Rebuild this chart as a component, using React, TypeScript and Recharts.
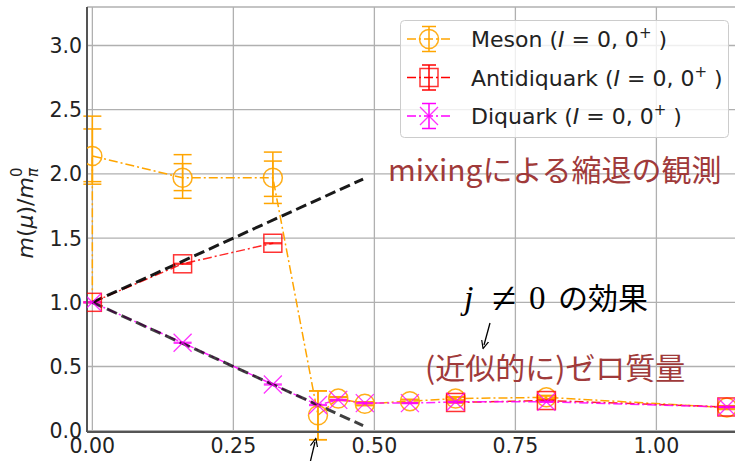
import React from 'react';
import { LineChart, Line, XAxis, YAxis, CartesianGrid, ErrorBar, Legend } from 'recharts';

// Meson (I=0, 0+) masses vs chemical potential, with inner/outer error ranges [below, above]
const mesonMu = [0.0, 0.16, 0.32, 0.40, 0.436, 0.483, 0.563, 0.644, 0.805, 1.125];
const mesonMass = [2.14, 1.97, 1.97, 0.12, 0.25, 0.21, 0.23, 0.25, 0.26, 0.18];
const mesonErrInner = [[0.20, 0.21], [0.10, 0.11], [0.145, 0.13], [0.19, 0.19], [0.01, 0.01], [0.01, 0.01], [0.01, 0.01], [0.01, 0.01], [0.01, 0.01], [0.01, 0.01]];
const mesonErrOuter = [[0.22, 0.31], [0.16, 0.18], [0.20, 0.20], [0.19, 0.19], [0.015, 0.015], [0.015, 0.015], [0.015, 0.015], [0.015, 0.015], [0.015, 0.015], [0.015, 0.015]];

// vertical meson connector at mu = 0 (pion mass up to sigma mass)
const mesonZeroMu = [0.0, 0.0];
const mesonZeroMass = [1.0, 2.14];

// Antidiquark (I=0, 0+): low-mu branch and high-mu branch
const antiLowMu = [0.0, 0.16, 0.32];
const antiLowMass = [1.0, 1.30, 1.46];
const antiHighMu = [0.644, 0.805, 1.125];
const antiHighMass = [0.22, 0.235, 0.185];
const antiErr = 0.004;

// Diquark (I=0, 0+)
const diqMu = [0.0, 0.16, 0.32, 0.40, 0.436, 0.483, 0.563, 0.644, 0.805, 1.125];
const diqMass = [1.0, 0.685, 0.36, 0.20, 0.24, 0.215, 0.215, 0.225, 0.225, 0.185];
const diqErr = 0.004;

// m_pi +/- 2 mu guide lines
const guideMu = [0.0, 0.48];
const guideUpper = [1.0, 1.96];
const guideLower = [1.0, 0.04];

const xTicks = [0, 0.25, 0.5, 0.75, 1.0];
const yTicks = [0, 0.5, 1.0, 1.5, 2.0, 2.5, 3.0];

const ORANGE = '#ffa500';
const RED = '#ff0000';
const MAGENTA = '#ff00ff';
const ANNOT = '#a03a3a';
const SPINE = '#555555';
const DASHDOT = '9 3 2 3';

const mesonData = mesonMu.map((mu, i) => ({ mu, m: mesonMass[i], eIn: mesonErrInner[i], eOut: mesonErrOuter[i] }));
const mesonZeroData = mesonZeroMu.map((mu, i) => ({ mu, m: mesonZeroMass[i] }));
const antiLowData = antiLowMu.map((mu, i) => ({ mu, m: antiLowMass[i], e: antiErr }));
const antiHighData = antiHighMu.map((mu, i) => ({ mu, m: antiHighMass[i], e: antiErr }));
const diqData = diqMu.map((mu, i) => ({ mu, m: diqMass[i], e: diqErr }));
const upperData = guideMu.map((mu, i) => ({ mu, m: guideUpper[i] }));
const lowerData = guideMu.map((mu, i) => ({ mu, m: guideLower[i] }));

type Kind = 'circle' | 'square' | 'x';

function marker(kind: Kind, color: string, cx: number, cy: number, key: string) {
  if (kind === 'circle') {
    return <circle key={key} cx={cx} cy={cy} r={9.5} fill="none" stroke={color} strokeWidth={1.5} strokeOpacity={0.9} />;
  }
  if (kind === 'square') {
    return <rect key={key} x={cx - 9} y={cy - 9} width={18} height={18} fill="none" stroke={color} strokeWidth={1.5} strokeOpacity={0.8} />;
  }
  return (
    <path key={key} d={`M${cx - 9},${cy - 9}L${cx + 9},${cy + 9}M${cx - 9},${cy + 9}L${cx + 9},${cy - 9}`} stroke={color} strokeWidth={1.3} strokeOpacity={0.8} fill="none" />
  );
}

const dotFor = (kind: Kind, color: string, tag: string) => (props: any) => {
  const { cx, cy, index } = props;
  if (cx == null || cy == null) return <g key={`${tag}-${index}`} />;
  return marker(kind, color, cx, cy, `${tag}-${index}`);
};

const XTick = (props: any) => {
  const { x, y, payload } = props;
  return (
    <text x={x} y={y + 21} textAnchor="middle" fontFamily="DejaVu Sans" fontSize={20.5} fill="#222">
      {payload.value.toFixed(2)}
    </text>
  );
};

const YTick = (props: any) => {
  const { x, y, payload } = props;
  return (
    <text x={x} y={y + 7.5} textAnchor="end" fontFamily="DejaVu Sans" fontSize={20.5} fill="#222">
      {payload.value.toFixed(1)}
    </text>
  );
};

const legendRows: { name: string; color: string; kind: Kind }[] = [
  { name: 'Meson', color: ORANGE, kind: 'circle' },
  { name: 'Antidiquark', color: RED, kind: 'square' },
  { name: 'Diquark', color: MAGENTA, kind: 'x' },
];

const LegendBox = () => (
  <svg width={330} height={119} style={{ display: 'block' }}>
    <rect x={0.5} y={0.5} width={328} height={117} rx={4} fill="#ffffff" fillOpacity={0.8} stroke="#cccccc" strokeWidth={1} />
    {legendRows.map((r, i) => {
      const cy = 19 + i * 38.5;
      return (
        <g key={r.name}>
          <line x1={7} y1={cy} x2={51} y2={cy} stroke={r.color} strokeWidth={1.5} strokeDasharray={DASHDOT} />
          <line x1={29} y1={cy - 12.5} x2={29} y2={cy + 12.5} stroke={r.color} strokeWidth={1.5} />
          <line x1={22} y1={cy - 12.5} x2={36} y2={cy - 12.5} stroke={r.color} strokeWidth={1.5} />
          <line x1={22} y1={cy + 12.5} x2={36} y2={cy + 12.5} stroke={r.color} strokeWidth={1.5} />
          {marker(r.kind, r.color, 29, cy, `lm-${i}`)}
          <text x={71} y={cy + 8} fontFamily="DejaVu Sans" fontSize={22} fill="#222">
            {r.name} (<tspan fontStyle="italic">I</tspan>
            <tspan> = 0, 0</tspan>
            <tspan fontSize={15} dy={-9}>+</tspan>
            <tspan dy={9}> )</tspan>
          </text>
        </g>
      );
    })}
  </svg>
);

export default function App() {
  return (
    <div style={{ position: 'absolute', left: 0, top: 0, width: 735, height: 461, overflow: 'hidden', background: '#fff' }}>
      <LineChart width={745} height={461} margin={{ top: 7, right: 4, bottom: 0, left: 0 }}>
        <CartesianGrid stroke="#b0b0b0" strokeWidth={1.3} />
        <XAxis
          type="number"
          dataKey="mu"
          domain={[-0.0095, 1.15]}
          ticks={xTicks}
          allowDataOverflow
          height={29}
          tickSize={0}
          tickMargin={0}
          tickLine={false}
          axisLine={{ stroke: SPINE, strokeWidth: 2 }}
          tick={XTick}
          interval={0}
        />
        <XAxis xAxisId="top" orientation="top" type="number" domain={[-0.0095, 1.15]} height={0} tick={false} tickLine={false} axisLine={{ stroke: SPINE, strokeWidth: 2 }} />
        <YAxis
          type="number"
          dataKey="m"
          domain={[-0.01, 3.3]}
          ticks={yTicks}
          allowDataOverflow
          width={87}
          tickSize={0}
          tickMargin={5}
          tickLine={false}
          axisLine={{ stroke: SPINE, strokeWidth: 2 }}
          tick={YTick}
          interval={0}
        />
        <Legend
          layout="vertical"
          align="center"
          verticalAlign="middle"
          wrapperStyle={{ position: 'absolute', left: 400, top: 20, width: 330, height: 119 }}
          content={LegendBox}
        />
        <Line data={mesonZeroData} dataKey="m" stroke={ORANGE} strokeWidth={1.5} strokeDasharray={DASHDOT} dot={false} isAnimationActive={false} legendType="none" />
        <Line data={mesonData} dataKey="m" name="Meson" stroke={ORANGE} strokeWidth={1.5} strokeDasharray={DASHDOT} dot={dotFor('circle', ORANGE, 'ms')} isAnimationActive={false}>
          <ErrorBar dataKey="eOut" width={9} stroke={ORANGE} strokeWidth={1.5} direction="y" />
          <ErrorBar dataKey="eIn" width={9} stroke={ORANGE} strokeWidth={1.5} direction="y" />
        </Line>
        <Line data={antiLowData} dataKey="m" name="Antidiquark" stroke={RED} strokeOpacity={0.85} strokeWidth={1.5} strokeDasharray={DASHDOT} dot={dotFor('square', RED, 'al')} isAnimationActive={false}>
          <ErrorBar dataKey="e" width={9} stroke={RED} strokeOpacity={0.8} strokeWidth={1.3} direction="y" />
        </Line>
        <Line data={antiHighData} dataKey="m" stroke={RED} strokeOpacity={0.85} strokeWidth={1.5} strokeDasharray={DASHDOT} dot={dotFor('square', RED, 'ah')} isAnimationActive={false} legendType="none">
          <ErrorBar dataKey="e" width={9} stroke={RED} strokeOpacity={0.8} strokeWidth={1.3} direction="y" />
        </Line>
        <Line data={diqData} dataKey="m" name="Diquark" stroke={MAGENTA} strokeOpacity={0.85} strokeWidth={1.5} strokeDasharray={DASHDOT} dot={dotFor('x', MAGENTA, 'dq')} isAnimationActive={false}>
          <ErrorBar dataKey="e" width={9} stroke={MAGENTA} strokeOpacity={0.8} strokeWidth={1.3} direction="y" />
        </Line>
        <Line data={upperData} dataKey="m" stroke="#000" strokeOpacity={0.9} strokeWidth={3} strokeDasharray="11 5" dot={false} isAnimationActive={false} legendType="none" />
        <Line data={lowerData} dataKey="m" stroke="#000" strokeOpacity={0.75} strokeWidth={3} strokeDasharray="11 5" dot={false} isAnimationActive={false} legendType="none" />
      </LineChart>
      <svg width={735} height={461} style={{ position: 'absolute', left: 0, top: 0, pointerEvents: 'none' }}>
        <defs>
          <marker id="arrowHead" viewBox="0 0 10 10" refX="5" refY="5" markerWidth="7" markerHeight="7" orient="auto-start-reverse">
            <path d="M0,1 L9,5 L0,9" fill="none" stroke="#000" strokeWidth={1.3} />
          </marker>
        </defs>
        <text transform="translate(33,213) rotate(-90)" textAnchor="middle" fontFamily="DejaVu Sans" fontSize={22} fill="#222">
          <tspan fontStyle="italic">m</tspan>(<tspan fontStyle="italic">μ</tspan>)/<tspan fontStyle="italic">m</tspan>
          <tspan fontSize={15} dy={5} fontStyle="italic">π</tspan>
          <tspan fontSize={15} dx={-9} dy={-16}>0</tspan>
        </text>
        <text x={388} y={181} fontFamily="Noto Sans CJK JP" fontSize={30} fill={ANNOT}>mixingによる縮退の観測</text>
        <text fontFamily="Liberation Serif" fill="#000">
          <tspan x={464} y={309} fontSize={34} fontStyle="italic">j</tspan>
          <tspan x={492} y={313} fontSize={44}>≠</tspan>
          <tspan x={529} y={309} fontSize={33}>0</tspan>
        </text>
        <text x={558} y={309} fontFamily="Noto Sans CJK JP" fontSize={30} fill="#000">の効果</text>
        <line x1={490} y1={323} x2={484} y2={345} stroke="#000" strokeWidth={1.3} markerEnd="url(#arrowHead)" />
        <text x={425} y={379} fontFamily="Noto Sans CJK JP" fontSize={30} fill={ANNOT}>(近似的に)ゼロ質量</text>
        <line x1={310} y1={463} x2={315} y2={442} stroke="#000" strokeWidth={1.3} markerEnd="url(#arrowHead)" />
      </svg>
    </div>
  );
}
